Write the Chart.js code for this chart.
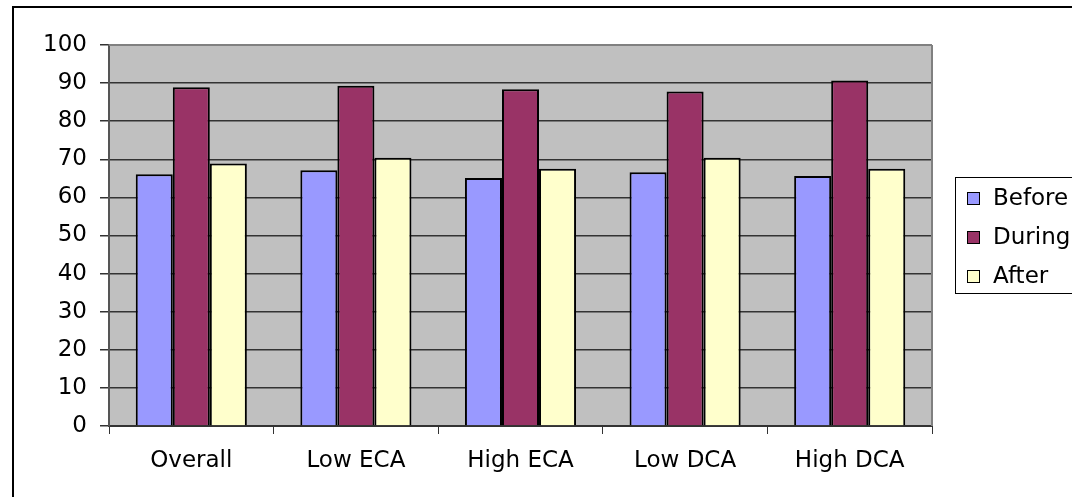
<!DOCTYPE html>
<html>
<head>
<meta charset="utf-8">
<script src="https://cdn.jsdelivr.net/npm/chart.js@4/dist/chart.umd.min.js"></script>
<style>
  html, body { margin: 0; padding: 0; background: #ffffff; }
  canvas { display: block; }
</style>
</head>
<body>
<canvas id="c" width="1072" height="497"></canvas>
<script>
// Categories and series values
const categories = ["Overall", "Low ECA", "High ECA", "Low DCA", "High DCA"];
const seriesNames = ["Before", "During", "After"];
const beforeValues = [66.1, 67.1, 65.1, 66.6, 65.6];
const duringValues = [88.9, 89.3, 88.4, 87.8, 90.7];
const afterValues  = [68.9, 70.4, 67.5, 70.4, 67.5];
const yTicks = [0, 10, 20, 30, 40, 50, 60, 70, 80, 90, 100];

const FONT = '"DejaVu Sans", Verdana, sans-serif';
const FONT_SIZE = 23;
const colors = ["#9999FF", "#993366", "#FFFFCC"];

// Grey plot area, frame around the whole chart, and the boxed legend
const framePlugin = {
  id: 'frame',
  beforeDraw(chart) {
    const { ctx, chartArea: a } = chart;
    ctx.save();
    ctx.fillStyle = '#ffffff';
    ctx.fillRect(0, 0, chart.width, chart.height);
    ctx.strokeStyle = '#000000';
    ctx.lineWidth = 2;
    ctx.strokeRect(13, 7, chart.width + 20, chart.height + 20);
    ctx.fillStyle = '#C0C0C0';
    ctx.fillRect(a.left, a.top, a.right - a.left, a.bottom - a.top);
    ctx.restore();
  },
  afterDatasetsDraw(chart) {
    const { ctx, chartArea: a } = chart;
    ctx.save();
    ctx.strokeStyle = '#808080';
    ctx.lineWidth = 2;
    ctx.beginPath();
    ctx.moveTo(a.right, a.top);
    ctx.lineTo(a.right, a.bottom);
    ctx.stroke();
    ctx.beginPath();
    ctx.moveTo(a.left, a.top);
    ctx.lineTo(a.right, a.top);
    ctx.stroke();
    ctx.restore();
  },
  afterDraw(chart) {
    const { ctx } = chart;
    ctx.save();
    // legend box
    ctx.strokeStyle = '#000000';
    ctx.lineWidth = 1;
    ctx.strokeRect(955.5, 177.5, 200, 116);
    ctx.font = FONT_SIZE + 'px ' + FONT;
    ctx.textBaseline = 'middle';
    ctx.textAlign = 'left';
    const rows = [198, 237, 276];
    chart.data.datasets.forEach((ds, i) => {
      const y = rows[i];
      ctx.fillStyle = ds.backgroundColor;
      ctx.fillRect(967, y - 6, 13, 13);
      ctx.strokeStyle = '#000000';
      ctx.lineWidth = 1;
      ctx.strokeRect(967.5, y - 5.5, 12, 12);
      ctx.fillStyle = '#000000';
      ctx.fillText(ds.label, 993, y + 1);
    });
    ctx.restore();
  }
};

const datasets = [beforeValues, duringValues, afterValues].map((vals, i) => ({
  label: seriesNames[i],
  data: vals,
  backgroundColor: colors[i],
  borderColor: '#000000',
  borderWidth: 2,
  borderSkipped: 'start',
  categoryPercentage: 0.675,
  barPercentage: 1.0
}));

new Chart(document.getElementById('c'), {
  type: 'bar',
  data: { labels: categories, datasets },
  options: {
    responsive: false,
    devicePixelRatio: 1,
    animation: false,
    layout: { padding: { left: 0, top: 45, right: 140, bottom: 15 } },
    plugins: {
      legend: { display: false },
      tooltip: { enabled: false }
    },
    scales: {
      x: {
        offset: true,
        grid: {
          offset: true,
          drawOnChartArea: false,
          drawTicks: true,
          tickLength: 8,
          color: '#333333',
          lineWidth: 1
        },
        border: { display: true, color: '#333333', width: 2 },
        ticks: {
          color: '#000000',
          font: { family: FONT, size: FONT_SIZE },
          padding: 13,
          maxRotation: 0
        },
        afterFit(scale) { scale.height = 56; }
      },
      y: {
        min: 0,
        max: 100,
        afterBuildTicks(scale) { scale.ticks = yTicks.map(v => ({ value: v })); },
        grid: {
          color: '#333333',
          lineWidth: 1.5,
          tickLength: 9,
          drawTicks: true
        },
        border: { display: true, color: '#555555', width: 2 },
        ticks: {
          color: '#000000',
          font: { family: FONT, size: FONT_SIZE },
          padding: 13
        },
        afterFit(scale) { scale.width = 109; }
      }
    }
  },
  plugins: [framePlugin]
});
</script>
</body>
</html>
